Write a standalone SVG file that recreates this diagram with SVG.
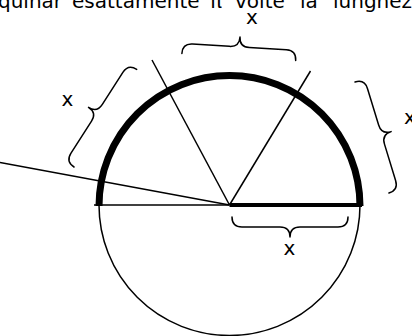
<svg xmlns="http://www.w3.org/2000/svg" width="412" height="336" viewBox="0 0 412 336">
<style>
.thin{fill:none;stroke:#000;stroke-width:1.5}
.thick{fill:none;stroke:#000;stroke-width:7}
.bar{fill:none;stroke:#000;stroke-width:4}
.brace{fill:none;stroke:#000;stroke-width:1.5;stroke-linecap:round;stroke-linejoin:round}
.lbl{font-family:"DejaVu Sans","Verdana",sans-serif;font-size:20px;fill:#000}
</style>
<rect width="412" height="336" fill="#fff"/>
<text class="lbl" y="8"><tspan x="-2">quinar</tspan> <tspan x="72">esattamente</tspan> <tspan x="210">π</tspan> <tspan x="235">volte</tspan> <tspan x="300">la</tspan> <tspan x="333">lunghezza</tspan></text>
<g id="circle">
<circle class="thin" cx="229.5" cy="205" r="130.5"/>
<path class="thick" d="M99,206 A130.5,130.5 0 0 1 360,206"/>
</g>
<g id="connectors">
<line class="thin" x1="94" y1="205" x2="229.5" y2="205"/>
<line class="bar" x1="229.5" y1="205" x2="362" y2="205"/>
<line class="thin" x1="0" y1="162.5" x2="229.5" y2="205"/>
<line class="thin" x1="152" y1="60" x2="229.5" y2="205"/>
<line class="thin" x1="310.5" y1="71" x2="229.5" y2="205"/>
</g>
<g id="brace-top">
<path class="brace" transform="translate(182.5,43.5) rotate(3.5)" d="M0,10 C0,3 3,0 10,0 L47,0 C54,0 57,-3 57,-10 C57,-3 60,0 67,0 L104,0 C111,0 114,3 114,10"/>
<text class="lbl" x="252" y="24" text-anchor="middle">x</text>
</g>
<g id="brace-left">
<path class="brace" transform="translate(65.6,161.6) rotate(-57.3)" d="M0,10 C0,3 3,0 10,0 L48,0 C55,0 58,-3 58,-10 C58,-3 61,0 68,0 L106,0 C113,0 116,3 116,10"/>
<text class="lbl" x="67.5" y="106" text-anchor="middle">x</text>
</g>
<g id="brace-right">
<path class="brace" transform="translate(364.6,79.1) rotate(73)" d="M0,10 C0,3 3,0 10,0 L48,0 C55,0 58,-3 58,-10 C58,-3 61,0 68,0 L106,0 C113,0 116,3 116,10"/>
<text class="lbl" x="404" y="124">x</text>
</g>
<g id="brace-bottom">
<path class="brace" transform="translate(348,227) rotate(180)" d="M0,10 C0,3 3,0 10,0 L48,0 C55,0 58,-3 58,-10 C58,-3 61,0 68,0 L106,0 C113,0 116,3 116,10"/>
<text class="lbl" x="289.5" y="255" text-anchor="middle">x</text>
</g>
</svg>
